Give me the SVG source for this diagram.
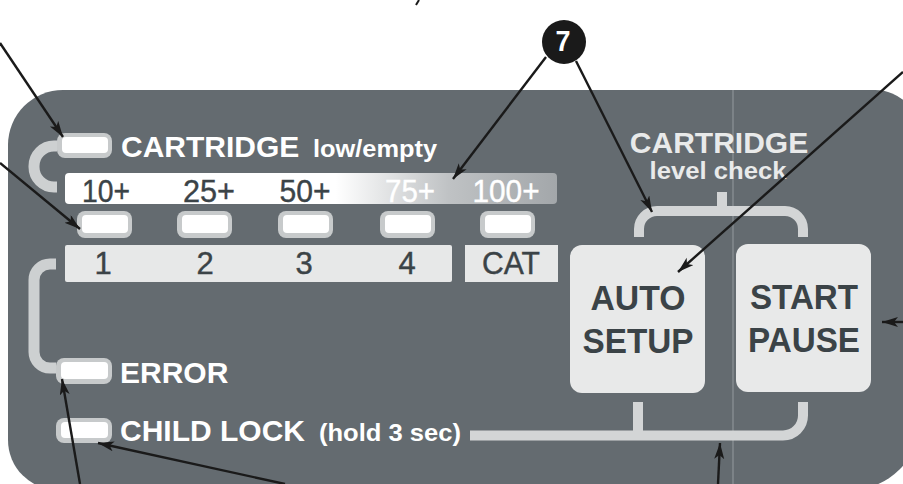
<svg xmlns="http://www.w3.org/2000/svg" width="903" height="484" viewBox="0 0 903 484">
<defs>
<style>
.panel{fill:#646b70}
.div{stroke:#8d9397;stroke-width:1.2;fill:none}
.brk{fill:none;stroke:#cdd0d1;stroke-width:11}
.brk2{fill:none;stroke:#d3d5d6;stroke-width:10}
.led-o{fill:#c7cacb}
.led-i{fill:#ffffff}
.lbl{font-family:"Liberation Sans",Arial,sans-serif;font-weight:bold;fill:#ffffff}
.num{font-family:"Liberation Sans",Arial,sans-serif;fill:#3b4347;font-size:31px;text-anchor:middle;stroke:#3b4347;stroke-width:0.4}
.btn{fill:#e8e9e9}
.btxt{font-family:"Liberation Sans",Arial,sans-serif;font-weight:bold;fill:#3b4347;font-size:35px;text-anchor:middle}
.bar{fill:#e7e8e8}
.arr{stroke:#1a1a1a;stroke-width:2.4;fill:none;marker-end:url(#ah)}
</style>
<linearGradient id="grad" x1="65" y1="0" x2="557" y2="0" gradientUnits="userSpaceOnUse">
<stop offset="0" stop-color="#ffffff"/>
<stop offset="0.55" stop-color="#ffffff"/>
<stop offset="0.78" stop-color="#bfc2c4"/>
<stop offset="1" stop-color="#a3a7aa"/>
</linearGradient>
<marker id="ah" markerUnits="userSpaceOnUse" markerWidth="18" markerHeight="12" refX="16" refY="5" orient="auto">
<path d="M0,0 L16,5 L0,10 L4,5 Z" fill="#1a1a1a"/>
</marker>
</defs>

<g id="panel">
<path class="panel" d="M63 90 H875 A45 45 0 0 1 920 135 V420 A70 70 0 0 1 850 490 H58 A50 50 0 0 1 8 440 V145 A55 55 0 0 1 63 90 Z"/>
<line class="div" x1="733" y1="90" x2="733" y2="484"/>
</g>

<g id="brackets">
<path class="brk" d="M57 146 H54 A20 20 0 0 0 34 166 V167 A20 20 0 0 0 54 187 H57"/>
<path class="brk" d="M56 264 H50 A16 16 0 0 0 34 280 V352 A16 16 0 0 0 50 368 H56"/>
<path class="brk2" d="M639 237 V229 A18 18 0 0 1 657 211 H785 A18 18 0 0 1 803 229 V237 M722 211 V192"/>
<path class="brk2" d="M470 435.5 H783 A20 20 0 0 0 803 415.5 V402 M638 435.5 V402"/>
</g>

<g id="cartridge-led">
<rect class="led-o" x="57" y="133" width="55" height="25" rx="8"/>
<rect class="led-i" x="62" y="137" width="46" height="16" rx="4"/>
<text class="lbl" x="121" y="157" font-size="30">CARTRIDGE</text>
<text class="lbl" x="313" y="157" font-size="24" textLength="124" lengthAdjust="spacingAndGlyphs">low/empty</text>
</g>

<g id="level-scale">
<rect x="65" y="173" width="492" height="31" rx="4" fill="url(#grad)"/>
<text class="num" x="106" y="202" textLength="48" lengthAdjust="spacingAndGlyphs">10+</text>
<text class="num" x="209" y="202" textLength="52" lengthAdjust="spacingAndGlyphs">25+</text>
<text class="num" x="305" y="202" textLength="51" lengthAdjust="spacingAndGlyphs">50+</text>
<text class="num" x="410" y="202" textLength="50" lengthAdjust="spacingAndGlyphs" style="fill:#ffffff;stroke:#ffffff">75+</text>
<text class="num" x="506" y="202" textLength="67" lengthAdjust="spacingAndGlyphs" style="fill:#ffffff;stroke:#ffffff">100+</text>
</g>

<g id="level-leds">
<rect class="led-o" x="77" y="211" width="55" height="27" rx="8"/>
<rect class="led-i" x="82" y="215" width="46" height="18" rx="4"/>
<rect class="led-o" x="177" y="211" width="55" height="27" rx="8"/>
<rect class="led-i" x="182" y="215" width="46" height="18" rx="4"/>
<rect class="led-o" x="278" y="211" width="55" height="27" rx="8"/>
<rect class="led-i" x="283" y="215" width="46" height="18" rx="4"/>
<rect class="led-o" x="380" y="211" width="55" height="27" rx="8"/>
<rect class="led-i" x="385" y="215" width="46" height="18" rx="4"/>
<rect class="led-o" x="480" y="211" width="55" height="27" rx="8"/>
<rect class="led-i" x="485" y="215" width="46" height="18" rx="4"/>
</g>

<g id="number-bar">
<rect class="bar" x="65" y="245" width="387" height="37" rx="2"/>
<rect class="bar" x="465" y="245" width="93" height="37"/>
<text class="num" x="103" y="274">1</text>
<text class="num" x="205" y="274">2</text>
<text class="num" x="304" y="274">3</text>
<text class="num" x="407" y="274">4</text>
<text class="num" x="511" y="274" textLength="58" lengthAdjust="spacingAndGlyphs">CAT</text>
</g>

<g id="error-led">
<rect class="led-o" x="56" y="358" width="56" height="26" rx="8"/>
<rect class="led-i" x="61" y="362" width="47" height="17" rx="4"/>
<text class="lbl" x="120" y="383" font-size="30">ERROR</text>
</g>

<g id="childlock-led">
<rect class="led-o" x="56" y="418" width="56" height="25" rx="8"/>
<rect class="led-i" x="61" y="422" width="47" height="16" rx="4"/>
<text class="lbl" x="120" y="441" font-size="30">CHILD LOCK</text>
<text class="lbl" x="319" y="441" font-size="24" textLength="142" lengthAdjust="spacingAndGlyphs">(hold 3 sec)</text>
</g>

<g id="level-check-label">
<text class="lbl" x="719" y="153" font-size="30" text-anchor="middle" style="fill:#e9eaea">CARTRIDGE</text>
<text class="lbl" x="718" y="179" font-size="24" text-anchor="middle" textLength="137" lengthAdjust="spacingAndGlyphs" style="fill:#e9eaea">level check</text>
</g>

<g id="auto-setup">
<rect class="btn" x="570" y="245" width="135" height="148" rx="12"/>
<text class="btxt" x="638" y="310" textLength="95" lengthAdjust="spacingAndGlyphs">AUTO</text>
<text class="btxt" x="638" y="353" textLength="111" lengthAdjust="spacingAndGlyphs">SETUP</text>
</g>

<g id="start-pause">
<rect class="btn" x="736" y="244" width="135" height="148" rx="12"/>
<text class="btxt" x="804" y="309" textLength="108" lengthAdjust="spacingAndGlyphs">START</text>
<text class="btxt" x="804" y="352" textLength="112" lengthAdjust="spacingAndGlyphs">PAUSE</text>
</g>

<g id="callout-7">
<circle cx="564" cy="42" r="22" fill="#1a1a1a"/>
<text x="563" y="51" font-family="'Liberation Sans',Arial,sans-serif" font-weight="bold" font-size="30" fill="#ffffff" text-anchor="middle" textLength="15" lengthAdjust="spacingAndGlyphs">7</text>
</g>

<g id="connectors">
<path d="M419 0 L416 5" stroke="#1a1a1a" stroke-width="2" fill="none"/>
<line class="arr" x1="0" y1="43" x2="63" y2="137"/>
<line class="arr" x1="0" y1="163" x2="80" y2="229"/>
<line class="arr" x1="546" y1="57" x2="453" y2="179"/>
<line class="arr" x1="576" y1="61" x2="652" y2="212"/>
<line class="arr" x1="903" y1="72" x2="678" y2="272"/>
<line class="arr" x1="903" y1="322" x2="882" y2="322"/>
<line class="arr" x1="80" y1="484" x2="62" y2="379"/>
<line class="arr" x1="285" y1="484" x2="98" y2="443"/>
<line class="arr" x1="718" y1="484" x2="720" y2="443"/>
</g>
</svg>
